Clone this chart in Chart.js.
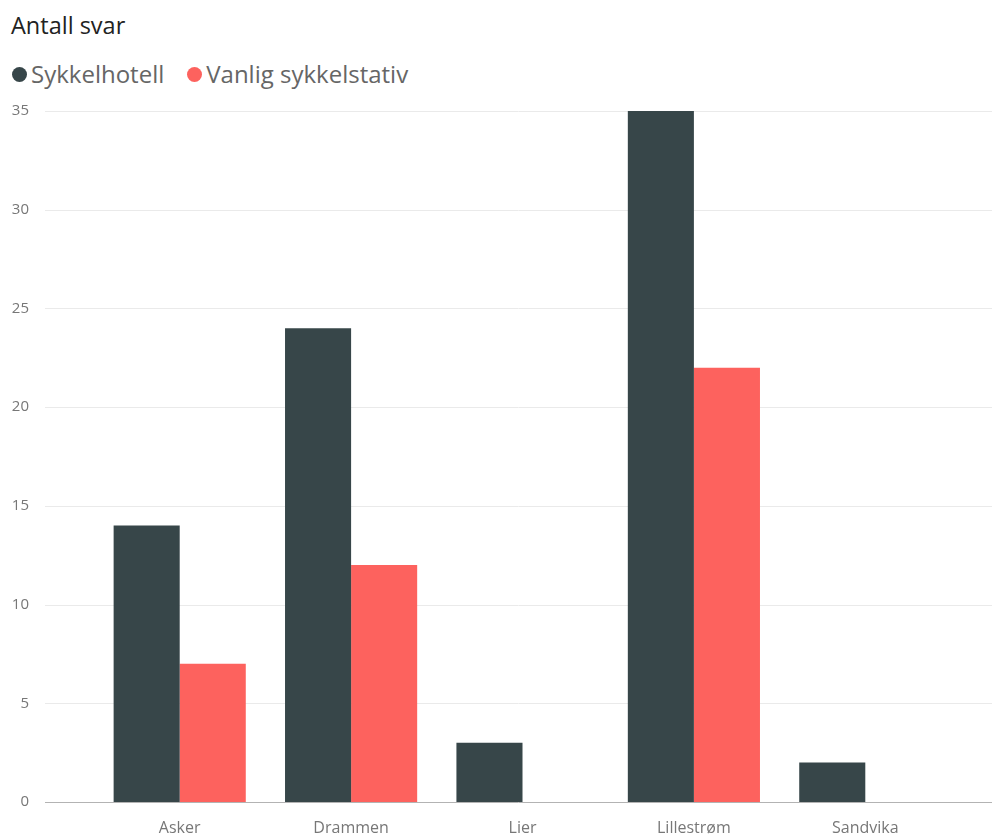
<!DOCTYPE html>
<html>
<head>
<meta charset="utf-8">
<script src="https://cdn.jsdelivr.net/npm/chart.js@4.4.1/dist/chart.umd.min.js"></script>
<style>
  body { margin: 0; background: #fff; font-family: "Open Sans", "Noto Sans", sans-serif; }
  #wrap { position: relative; width: 992px; height: 836px; }
  #title { position: absolute; left: 11px; top: 9px; font-size: 23.5px; color: #222; line-height: 32px; }
  #legend { position: absolute; left: 11px; top: 58px; font-size: 24px; color: #666; display: flex; line-height: 32px; }
  #legend span.item { display: flex; align-items: center; margin-right: 22px; }
  #legend span.dot { width: 15px; height: 15px; border-radius: 50%; margin-right: 4px; margin-left: 1px; display: inline-block; }
  canvas { position: absolute; left: 0; top: 0; }
</style>
</head>
<body>
<div id="wrap">
  <div id="title">Antall svar</div>
  <div id="legend"></div>
  <canvas id="barchart" width="992" height="836"></canvas>
</div>
<script>
const categories = ['Asker', 'Drammen', 'Lier', 'Lillestrøm', 'Sandvika'];
const sykkelhotell = [14, 24, 3, 35, 2];
const vanligStativ = [7, 12, 0, 22, 0];
const yTicks = [0, 5, 10, 15, 20, 25, 30, 35];

// gridlines in the reference run wider than the category band, so draw them ourselves
const wideGrid = {
  id: 'wideGrid',
  beforeDatasetsDraw(chart) {
    const ctx = chart.ctx;
    const y = chart.scales.y;
    ctx.save();
    y.ticks.forEach(t => {
      const py = Math.round(y.getPixelForValue(t.value)) + 0.5;
      ctx.beginPath();
      ctx.lineWidth = 1;
      ctx.strokeStyle = t.value === 0 ? '#b3b3b3' : '#eaeaea';
      ctx.moveTo(45, py);
      ctx.lineTo(992, py);
      ctx.stroke();
    });
    ctx.restore();
  }
};

const ctx = document.getElementById('barchart').getContext('2d');
const barchart = new Chart(ctx, {
  type: 'bar',
  data: {
    labels: categories,
    datasets: [
      { label: 'Sykkelhotell', data: sykkelhotell, backgroundColor: '#374649' },
      { label: 'Vanlig sykkelstativ', data: vanligStativ, backgroundColor: '#FD625E' }
    ]
  },
  options: {
    responsive: false,
    animation: false,
    layout: { padding: { top: 111, right: 41, left: 0, bottom: 0 } },
    datasets: { bar: { categoryPercentage: 0.771, barPercentage: 1 } },
    plugins: {
      legend: { display: false },
      title: { display: false },
      tooltip: { enabled: false }
    },
    scales: {
      x: {
        offset: true,
        afterFit: scale => { scale.height = 34; },
        grid: { display: false, drawTicks: false },
        border: { display: false },
        ticks: {
          padding: 17,
          color: '#777',
          font: { family: 'Open Sans', size: 16 },
          maxRotation: 0
        }
      },
      y: {
        min: 0,
        max: 35,
        afterBuildTicks: scale => { scale.ticks = yTicks.map(v => ({ value: v })); },
        afterFit: scale => {
          // big tick padding would otherwise push the chart area up
          scale.width = 94;
          scale.paddingTop = 0;
          scale.paddingBottom = 0;
        },
        grid: { display: false },
        border: { display: false },
        ticks: {
          padding: 57,
          color: '#777',
          font: { family: 'Open Sans', size: 15 }
        }
      }
    }
  },
  plugins: [wideGrid]
});

// html legend from the datasets
const legend = document.getElementById('legend');
barchart.data.datasets.forEach(ds => {
  const item = document.createElement('span');
  item.className = 'item';
  const dot = document.createElement('span');
  dot.className = 'dot';
  dot.style.background = ds.backgroundColor;
  item.appendChild(dot);
  item.appendChild(document.createTextNode(ds.label));
  legend.appendChild(item);
});
</script>
</body>
</html>
